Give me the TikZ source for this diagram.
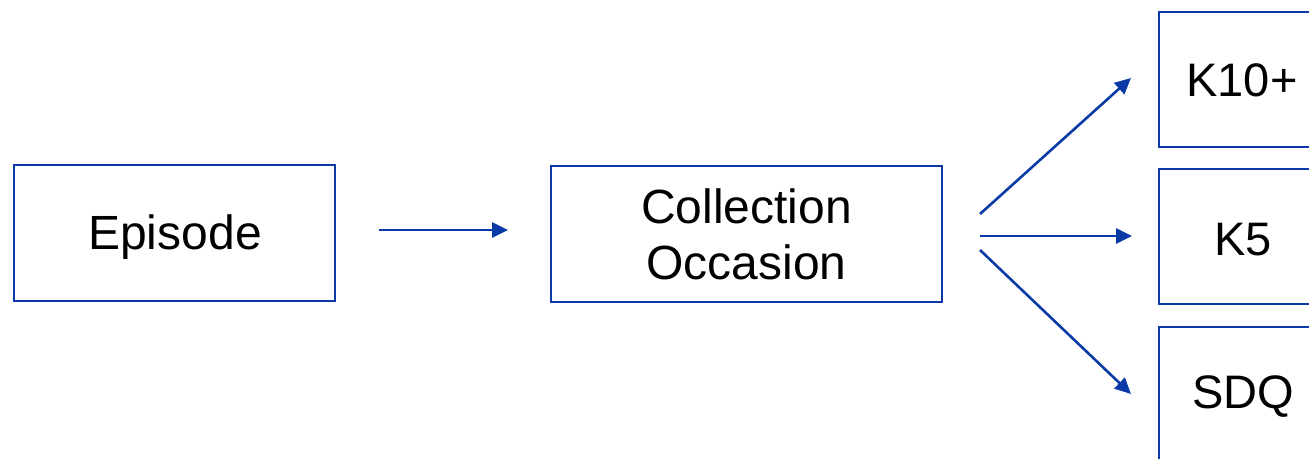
\documentclass[tikz,border=0pt]{standalone}
\usepackage{fontspec}
\setmainfont{Liberation Sans}
\usetikzlibrary{arrows.meta}
\definecolor{navy}{HTML}{0A3AA6}
\tikzset{
  box/.style={draw=navy, line width=2pt, fill=white, inner sep=0pt, align=center,
    font=\fontsize{48}{56}\selectfont, text=black},
  lbl/.style={font=\fontsize{47}{56}\selectfont, text=black, inner sep=0pt},
  flow/.style={draw=navy, line width=2.6pt, -{Triangle[length=16pt,width=15pt]}},
}
\begin{document}
\begin{tikzpicture}[x=1pt,y=-1pt]
\useasboundingbox (0,0) rectangle (1309,458);
\clip (0,0) rectangle (1309,458);

% main boxes
\node[box, minimum width=321pt, minimum height=136pt] (ep) at (174.5,233) {};
\node[lbl, font=\fontsize{48}{56}\selectfont] at (175,237) {Episode};
\node[box, minimum width=391pt, minimum height=136pt] (co) at (746.5,234) {Collection\\Occasion};

% instrument boxes, running off the right edge
\node[box, minimum width=170pt, minimum height=135pt, anchor=north west] (k10) at (1158,11) {};
\node[lbl] at (1242,80) {K10+};
\node[box, minimum width=170pt, minimum height=135pt, anchor=north west] (k5) at (1158,168) {};
\node[lbl] at (1243,240) {K5};
\node[box, minimum width=170pt, minimum height=160pt, anchor=north west] (sdq) at (1158,326) {};
\node[lbl] at (1243,397) {SDQ};

% connector end points
\coordinate (a1) at (379,230);
\coordinate (a2) at (508,230);
\coordinate (s0) at (980,214);
\coordinate (s1) at (980,236);
\coordinate (s2) at (980,250);
\coordinate (e0) at (1131,78);
\coordinate (e1) at (1132,236);
\coordinate (e2) at (1131,394);

\draw[flow] (a1) -- (a2);
\draw[flow] (s0) -- (e0);
\draw[flow] (s1) -- (e1);
\draw[flow] (s2) -- (e2);
\end{tikzpicture}
\end{document}
